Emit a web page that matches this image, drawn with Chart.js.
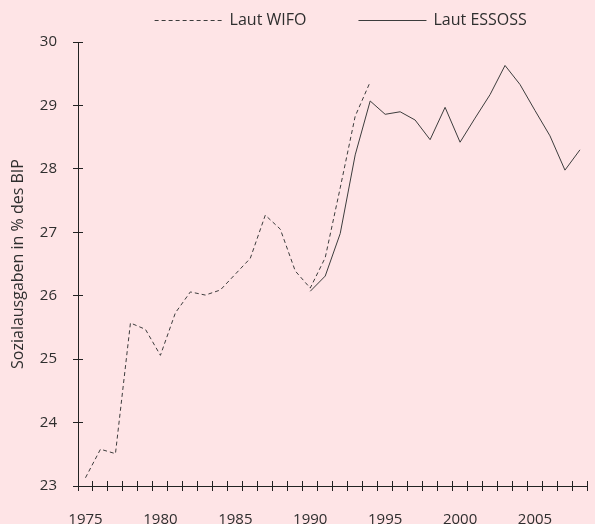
<!DOCTYPE html>
<html>
<head>
<meta charset="utf-8">
<script src="https://cdn.jsdelivr.net/npm/chart.js@4.4.1/dist/chart.umd.min.js"></script>
<style>
    html, body { margin: 0; padding: 0; background: #fee4e6; }
    #wrap { width: 595px; height: 524px; overflow: hidden; position: relative; }
    canvas { display: block; }
</style>
</head>
<body>
<div id="wrap">
    <canvas id="chart" width="600" height="526"></canvas>
</div>
<script>
// Sozialausgaben in % des BIP, 1975-2008

const years = [
    1975, 1976, 1977, 1978, 1979, 1980, 1981, 1982, 1983, 1984,
    1985, 1986, 1987, 1988, 1989, 1990, 1991, 1992, 1993, 1994,
    1995, 1996, 1997, 1998, 1999, 2000, 2001, 2002, 2003, 2004,
    2005, 2006, 2007, 2008
];

// WIFO-Reihe endet 1994
const wifo = [
    23.13, 23.58, 23.51, 25.57, 25.47, 25.06, 25.73, 26.06, 26.01, 26.09,
    26.34, 26.59, 27.27, 27.05, 26.39, 26.12, 26.60, 27.70, 28.83, 29.37,
    null, null, null, null, null, null, null, null, null, null,
    null, null, null, null
];

// ESSOSS-Reihe ab 1990
const essoss = [
    null, null, null, null, null, null, null, null, null, null,
    null, null, null, null, null, 26.07, 26.31, 26.98, 28.22, 29.07,
    28.86, 28.90, 28.77, 28.46, 28.97, 28.42, 28.80, 29.17, 29.63, 29.33,
    28.92, 28.52, 27.98, 28.30
];

const yTicks = [23, 24, 25, 26, 27, 28, 29, 30];
const xLabelYears = [1975, 1980, 1985, 1990, 1995, 2000, 2005];

const textColor = '#2e2e2e';
const lineColor = '#3c3c3c';
const axisColor = '#222222';
const fontFamily = '"Open Sans", sans-serif';

// Striche auf beiden Seiten der Achsen
const crossTicks = {
    id: 'crossTicks',
    afterDatasetsDraw(chart) {
        const { ctx, chartArea, scales: { x, y } } = chart;
        const len = 5;
        ctx.save();
        ctx.strokeStyle = axisColor;
        ctx.lineWidth = 1;
        ctx.beginPath();
        const step = x.getPixelForValue(1) - x.getPixelForValue(0);
        const start = x.getPixelForValue(0) - step / 2;
        for (let i = 0; i <= years.length; i++) {
            const px = Math.round(start + i * step - 0.5) + 0.5;
            ctx.moveTo(px, chartArea.bottom - len);
            ctx.lineTo(px, chartArea.bottom + len);
        }
        yTicks.forEach(v => {
            const py = Math.round(y.getPixelForValue(v) - 0.5) + 0.5;
            ctx.moveTo(chartArea.left - len, py);
            ctx.lineTo(chartArea.left + len, py);
        });
        ctx.stroke();
        ctx.restore();
    }
};

// Legende oben: Linienmuster + Beschriftung
const lineLegend = {
    id: 'lineLegend',
    afterDraw(chart) {
        const { ctx, chartArea } = chart;
        const sample = 68;
        const gap = 7;
        const itemGap = 52;
        const yPos = 20;
        ctx.save();
        ctx.font = '16px ' + fontFamily;
        const items = chart.data.datasets.map(ds => ({
            ds,
            w: sample + gap + ctx.measureText(ds.label).width
        }));
        const total = items.reduce((s, it) => s + it.w, 0) + itemGap * (items.length - 1);
        let cx = (chartArea.left + chartArea.right) / 2 - total / 2 + 8;
        items.forEach(({ ds, w }) => {
            ctx.strokeStyle = ds.borderColor;
            ctx.lineWidth = 1;
            ctx.setLineDash(ds.borderDash || []);
            ctx.beginPath();
            ctx.moveTo(cx, yPos + 0.5);
            ctx.lineTo(cx + sample, yPos + 0.5);
            ctx.stroke();
            ctx.setLineDash([]);
            ctx.fillStyle = textColor;
            ctx.textBaseline = 'middle';
            ctx.textAlign = 'left';
            ctx.fillText(ds.label, cx + sample + gap, yPos);
            cx += w + itemGap;
        });
        ctx.restore();
    }
};

const ctx = document.getElementById('chart').getContext('2d');
new Chart(ctx, {
    type: 'line',
    data: {
        labels: years,
        datasets: [
            {
                label: 'Laut WIFO',
                data: wifo,
                borderColor: lineColor,
                borderWidth: 1,
                borderDash: [4, 3],
                pointRadius: 0,
                tension: 0,
                fill: false
            },
            {
                label: 'Laut ESSOSS',
                data: essoss,
                borderColor: lineColor,
                borderWidth: 1,
                pointRadius: 0,
                tension: 0,
                fill: false
            }
        ]
    },
    options: {
        responsive: false,
        animation: false,
        devicePixelRatio: 1,
        layout: {
            padding: { top: 42, right: 4, bottom: 0, left: 9 }
        },
        plugins: {
            legend: { display: false },
            tooltip: { enabled: false }
        },
        scales: {
            x: {
                type: 'category',
                offset: true,
                afterFit: scale => { scale.height = 40; },
                grid: { display: true, drawOnChartArea: false, drawTicks: true, tickLength: 5, color: 'transparent' },
                border: { display: true, color: axisColor, width: 1 },
                ticks: {
                    autoSkip: false,
                    maxRotation: 0,
                    padding: 20,
                    color: textColor,
                    font: { family: fontFamily, size: 15 },
                    callback: function (value) {
                        const yr = years[value];
                        return xLabelYears.includes(yr) ? String(yr) : '';
                    }
                }
            },
            y: {
                min: 23,
                max: 30,
                afterFit: scale => { scale.width = 69; },
                grid: { display: true, drawOnChartArea: false, drawTicks: true, tickLength: 5, color: 'transparent' },
                border: { display: true, color: axisColor, width: 1 },
                ticks: {
                    stepSize: 1,
                    padding: 16,
                    color: textColor,
                    font: { family: fontFamily, size: 15 }
                },
                title: {
                    display: true,
                    text: 'Sozialausgaben in % des BIP',
                    color: textColor,
                    font: { family: fontFamily, size: 16 },
                    padding: { top: 0, bottom: 0 }
                }
            }
        }
    },
    plugins: [crossTicks, lineLegend]
});
</script>
</body>
</html>
